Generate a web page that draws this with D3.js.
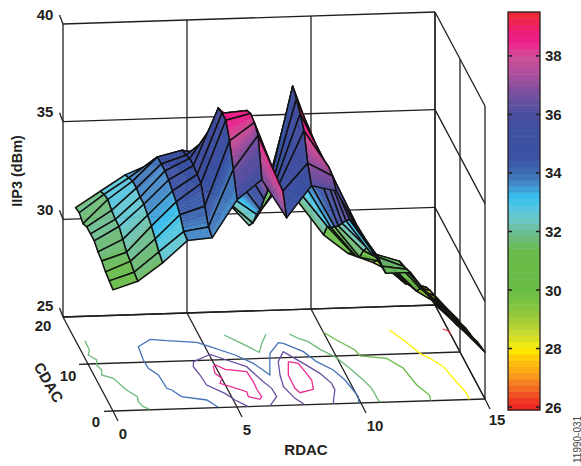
<!DOCTYPE html>
<html><head><meta charset="utf-8">
<script src="https://cdn.jsdelivr.net/npm/d3@7/dist/d3.min.js"></script>
<style>html,body{margin:0;padding:0;background:#fff}svg{display:block}text{font-family:"Liberation Sans",Arial,sans-serif;font-weight:700;fill:#231f20}</style>
</head><body><svg id="c" width="581" height="466"></svg>
<script>
// ---- data ----
const rdac = d3.range(0, 16);
const cdac = [0, 1.5, 3, 4.5, 6, 7.5, 9, 10.5, 12, 13.5, 15];
// IIP3 (dBm): one list per RDAC code, along cdac
const iip3r00 = [31.2,31.3,31.4,31.6,31.7,31.9,31.9,31.9,31.7,31.9,31.8];
const iip3r01 = [31.6,31.7,31.9,32.0,32.3,32.6,32.6,32.7,32.9,32.8,32.6];
const iip3r02 = [32.5,32.7,33.0,33.3,33.5,33.7,33.7,33.8,33.8,33.6,33.4];
const iip3r03 = [33.6,33.7,34.2,34.5,34.7,34.9,35.0,35.0,35.0,34.5,33.9];
const iip3r04 = [33.7,33.9,34.6,35.4,35.5,35.6,35.6,35.4,35.3,34.5,33.8];
const iip3r05 = [35.6,36.8,37.9,38.6,38.6,38.5,37.4,36.4,35.0,33.6,32.6];
const iip3r06 = [36.6,38.5,38.8,38.9,38.7,37.2,35.5,34.2,32.8,32.2,32.0];
const iip3r07 = [34.6,35.6,35.6,35.3,34.8,34.2,33.4,32.5,31.9,31.1,30.6];
const iip3r08 = [36.2,37.0,38.3,38.8,39.2,39.5,38.2,36.4,34.5,33.0,32.2];
const iip3r09 = [35.9,36.3,36.4,36.3,36.2,36.0,35.2,33.8,33.2,32.4,31.7];
const iip3r10 = [33.7,33.7,33.5,33.3,32.9,32.4,31.9,31.5,31.1,30.8,30.0];
const iip3r11 = [31.6,31.6,31.7,31.5,31.2,31.1,30.6,29.9,29.6,29.4,29.0];
const iip3r12 = [31.6,31.4,31.2,31.1,30.7,30.1,29.9,29.6,29.3,29.0,28.5];
const iip3r13 = [29.9,29.8,29.7,29.6,29.3,28.8,28.6,28.4,28.1,27.9,27.8];
const iip3r14 = [28.7,28.5,28.4,28.3,28.2,28.0,27.9,27.8,27.7,27.5,27.2];
const iip3r15 = [27.4,27.3,27.2,27.0,26.9,26.8,26.6,26.5,26.3,26.1,25.9];
const iip3 = [iip3r00,iip3r01,iip3r02,iip3r03,iip3r04,iip3r05,iip3r06,iip3r07,iip3r08,iip3r09,iip3r10,iip3r11,iip3r12,iip3r13,iip3r14,iip3r15];

// contour traces on the floor, as [RDAC, CDAC] pairs
const contour26 = [[14.8,14.93],[14.98,14.47],[15,13.76]];
const contour28 = [[12.65,15.08],[13.01,12.89],[13.39,9.99],[13.68,8.88],[14.03,7.05],[14.21,4.18],[14.39,1.31],[14.37,0]];
const contour30 = [[10,15.04],[10.36,13.34],[10.88,11.13],[10.95,9.84],[11.96,9.17],[12.41,6.97],[12.59,3.39],[12.88,1.21],[12.81,0]];
const contour32a = [[0.37,14.9],[0.35,12.92],[0.2,11.88],[0.43,10.78],[0.32,9.73],[0.42,8.65],[0.31,7.61],[0.7,6.83],[0.98,4.3],[1.27,2.83],[1.2,1.78],[1.29,0.7],[1.5,0.1]];
const contour32b = [[6,15.15],[6.48,13.44],[6.77,12.32],[7.04,11.29],[7.32,13.15],[7.68,15]];
const contour32c = [[8.61,14.92],[8.88,13.95],[9.2,13.19],[9.51,11.5],[9.97,9.72],[10.33,6.97],[10.58,4.8],[10.73,3],[10.75,0.51],[10.79,0]];
const contour34 = [[4.25,0.06],[3.95,1.67],[3.02,2.54],[2.77,4],[2.61,4.38],[2.56,7.23],[2.3,8.69],[2.28,10.47],[2.36,13.29],[2.98,14.74],[3.61,14.35],[4.77,13.8],[5.2,12.8],[6.02,10.89],[6.57,9.02],[6.98,6.47],[7.22,8.91],[7.44,11],[8,13.18],[8.18,13],[8.8,11.13],[9.11,8.95],[9.6,7.09],[9.85,4.92],[10.03,1.34],[9.91,0]];
const contour36a = [[5.46,0],[5.07,1.48],[4.81,2.94],[4.26,4.81],[4.21,6.94],[4.12,8.73],[4.23,9.78],[5.04,11.2],[5.58,9.9],[6.23,8.37],[6.58,5.12],[6.77,3.67],[6.79,1.89],[6.33,0]];
const contour36b = [[7.74,0],[7.48,1.42],[7.27,3.94],[7.38,6.4],[7.59,9.2],[8,11.26],[8.55,8.69],[9,6.48],[9.25,4.31],[9.24,2.9],[8.93,0.47],[8.92,0]];
const contour38a = [[4.91,8.6],[5.04,8.93],[5.32,7.96],[6.13,7.33],[6.18,5.19],[6.16,3.42],[6.2,2],[6.07,1.45],[5.67,2.09],[5.71,3.14],[4.83,5.07],[5,6.1],[4.84,7.19],[4.91,8.6]];
const contour38b = [[7.99,9.14],[8.35,8.72],[8.44,6.93],[8.53,5.15],[8.4,3.18],[7.8,2.57],[7.69,3.51],[7.71,6.35],[7.99,9.14]];
const contourSets = [
  {lines:[contour26], color:"#ed3a4a"},
  {lines:[contour28], color:"#fff200"},
  {lines:[contour30], color:"#69bb45"},
  {lines:[contour32a,contour32b,contour32c], color:"#6dbb7c"},
  {lines:[contour34], color:"#4472b8"},
  {lines:[contour36a,contour36b], color:"#6a50a2"},
  {lines:[contour38a,contour38b], color:"#ec2a90"}
];

const rTicks = [0,5,10,15], cTicks = [0,10,20], zTicks = [25,30,35,40];
const barTicks = [26,28,30,32,34,36,38];
const colorVals = [25.9,26.3,26.7,27.2,27.7,28,28.2,28.7,29.3,30,31.3,31.8,32.2,32.7,33.2,33.6,34,34.5,35.5,36,36.5,37,37.6,38,38.4,38.8,39.5];
const colorHex  = ["#ed1c24","#ef4123","#f37021","#faa61a","#ffcb05","#fff200","#e6e620","#b9d433","#8cc63f","#69bd45","#69bb4a","#6dbb7c","#6ec3b0","#5fc8dc","#35c0ef","#448ccb","#3f6cb2","#3a53a4","#3f4fa0","#4a4fa0","#6a4f9f","#8d4f9e","#bb4f9b","#d04f98","#ed2590","#ec1c7a","#ee2a2e"];

// ---- scales ----
const svg = d3.select("#c");
const colorLin = d3.scaleLinear().domain(colorVals).range(colorHex).interpolate(d3.interpolateRgb);
const nBands = 64;
const bandVals = d3.range(nBands).map(i => 25.9 + (39.5-25.9)*(i+0.5)/nBands);
const color = d3.scaleQuantize().domain([25.9,39.5]).range(bandVals.map(v => colorLin(v)));

const rX = d3.scaleLinear([0,15],[113,485]);
const rY = d3.scaleLinear([0,15],[411,399]);
const cX = d3.scaleLinear([0,20],[0,-50]);
const cY = d3.scaleLinear([0,20],[0,-94]);
const zY = d3.scaleLinear([25,40],[0,-293]);
const P = (r,c,z=25) => [rX(r)+cX(c), rY(r)+cY(c)+zY(z)];
const seg = (g,a,b,w=1.3,col="#231f20") => g.append("line").attr("x1",a[0]).attr("y1",a[1]).attr("x2",b[0]).attr("y2",b[1]).attr("stroke",col).attr("stroke-width",w);

// ---- walls and floor ----
const grid = svg.append("g");
rTicks.forEach(r => {
  seg(grid,P(r,20,25),P(r,20,40));
  seg(grid,P(r,0,25),P(r,20,25));
  const a=P(r,0,25); seg(grid,a,[a[0]+5,a[1]+10]);
});
cTicks.forEach(c => {
  seg(grid,P(15,c,25),P(15,c,40));
  seg(grid,P(0,c,25),P(15,c,25));
  const a=P(0,c,25); if(c<20) seg(grid,a,[a[0]-9,a[1]+0.3]);
});
zTicks.forEach(z => {
  seg(grid,P(0,20,z),P(15,20,z));
  seg(grid,P(15,20,z),P(15,0,z));
  const a=P(0,20,z); seg(grid,a,[a[0]-3.5,a[1]-9]);
});

// ---- contours ----
const lineGen = d3.line().x(d => P(d[0],d[1])[0]).y(d => P(d[0],d[1])[1]);
contourSets.forEach(s => s.lines.forEach(l => {
  svg.append("path").attr("d",lineGen(l)).attr("fill","none").attr("stroke",s.color).attr("stroke-width",1.3);
}));

// ---- surface, far to near; each strip takes its colour from its lower RDAC edge ----
const surf = svg.append("g");
const poly = pts => "M"+pts.map(p=>p.map(v=>v.toFixed(2)).join(",")).join("L")+"Z";
const sub = 6;
for (let i = rdac.length-2; i >= 0; i--) {
  for (let j = cdac.length-2; j >= 0; j--) {
    const r0=rdac[i], r1=rdac[i+1], c0=cdac[j], c1=cdac[j+1];
    const z00=iip3[i][j], z10=iip3[i+1][j], z01=iip3[i][j+1], z11=iip3[i+1][j+1];
    const zAt=(u,v)=>(z00*(1-u)+z10*u)*(1-v)+(z01*(1-u)+z11*u)*v;
    const pt=(u,v)=>P(r0+(r1-r0)*u,c0+(c1-c0)*v,zAt(u,v));
    for (let b=sub-1;b>=0;b--) {
      const v0=b/sub,v1=(b+1)/sub;
      const col=color(zAt(0,(v0+v1)/2));
      surf.append("path").attr("d",poly([pt(0,v0),pt(1,v0),pt(1,v1),pt(0,v1)]))
        .attr("fill",col).attr("stroke",col).attr("stroke-width",0.4);
    }
    surf.append("path").attr("d",poly([pt(0,0),pt(1,0),pt(1,1),pt(0,1)]))
      .attr("fill","none").attr("stroke","#111").attr("stroke-width",1.5).attr("stroke-linejoin","round");
  }
}

// ---- axis text ----
const T = (x,y,s,size=15,rot=0,anchor="middle") => svg.append("text").attr("transform",`translate(${x},${y}) rotate(${rot})`).attr("text-anchor",anchor).attr("font-size",size).text(s);
const zLab = {40:[45,20],35:[45,117],30:[45,215],25:[45,311]};
zTicks.forEach(z => T(zLab[z][0],zLab[z][1],z));
T(22,171,"IIP3 (dBm)",14.5,-90);
const cLab = {20:[43,331],10:[68,381],0:[96,427]};
cTicks.forEach(c => T(cLab[c][0],cLab[c][1],c));
T(44,385,"CDAC",15,60);
const rLab = {0:[123,439],5:[247,435],10:[375,431],15:[497,425]};
rTicks.forEach(r => T(rLab[r][0],rLab[r][1],r));
T(306,455,"RDAC",15);

// ---- colour bar ----
const barY = d3.scaleLinear([25.9,39.5],[410,12]);
const bar = svg.append("g");
bandVals.forEach((v,i) => {
  const lo=25.9+(39.5-25.9)*i/nBands, hi=25.9+(39.5-25.9)*(i+1)/nBands;
  bar.append("rect").attr("x",508).attr("width",32).attr("y",barY(hi)).attr("height",barY(lo)-barY(hi)+0.5).attr("fill",color(v));
});
bar.append("rect").attr("x",508).attr("y",12).attr("width",32).attr("height",398).attr("fill","none").attr("stroke","#231f20").attr("stroke-width",1.3);
barTicks.forEach(t => {
  const y=barY(t);
  seg(bar,[508,y],[512,y],1.5); seg(bar,[536,y],[540,y],1.5);
  T(545,y+5.5,t,15,0,"start");
});
svg.append("text").attr("transform","translate(580.5,463) rotate(-90)").attr("font-size",10).style("font-weight",400).style("fill","#444").text("11990-031");
</script></body></html>
